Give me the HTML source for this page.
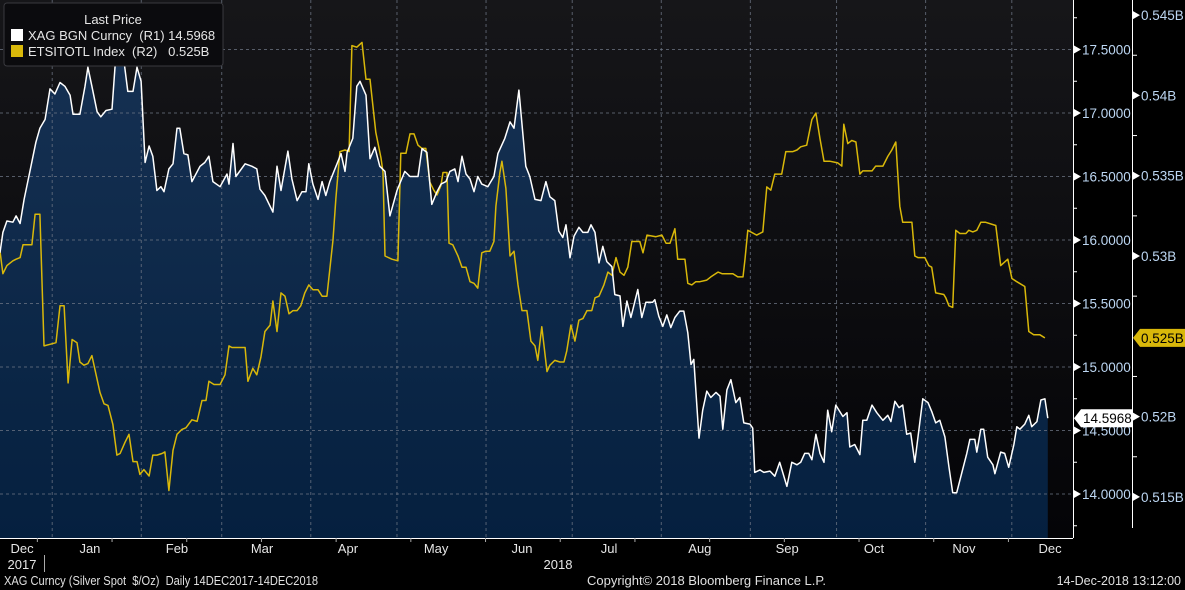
<!DOCTYPE html>
<html><head><meta charset="utf-8">
<style>
html,body{margin:0;padding:0;background:#000;}
svg{display:block;font-family:"Liberation Sans",sans-serif;}
</style></head>
<body>
<svg id="chart" width="1185" height="590" viewBox="0 0 1185 590" xmlns="http://www.w3.org/2000/svg">
<defs>
<linearGradient id="bg" x1="0" y1="0" x2="0" y2="1"><stop offset="0" stop-color="#161619"/><stop offset="1" stop-color="#040407"/></linearGradient>
<linearGradient id="area" x1="0" y1="0" x2="0" y2="1"><stop offset="0" stop-color="#163153"/><stop offset="1" stop-color="#05203f"/></linearGradient>
</defs>
<rect x="0" y="0" width="1185" height="590" fill="#000"/>
<rect x="0" y="0" width="1073" height="538" fill="url(#bg)"/>
<g id="areaG"></g>
<g id="grid"></g>
<g id="lines"></g>
<g id="axes"></g>
<g>
<rect x="4" y="3" width="219" height="63" rx="3" fill="#0b0b0e" stroke="#3a3a3f"/>
<text x="113" y="24" fill="#e6e6e6" font-size="13" text-anchor="middle">Last Price</text>
<rect x="11" y="29" width="12" height="12" fill="#fff"/>
<text x="28" y="40" fill="#e6e6e6" font-size="13" xml:space="preserve">XAG BGN Curncy  (R1) 14.5968</text>
<rect x="11" y="45" width="12" height="12" fill="#d9b80a"/>
<text x="28" y="56" fill="#e6e6e6" font-size="13" xml:space="preserve">ETSITOTL Index  (R2)   0.525B</text>
</g>
<text x="4" y="585" fill="#e0e0e0" font-size="12.5" xml:space="preserve" textLength="314" lengthAdjust="spacingAndGlyphs">XAG Curncy (Silver Spot  $/Oz)  Daily 14DEC2017-14DEC2018</text>
<text x="587" y="585" fill="#e0e0e0" font-size="12.5" textLength="239" lengthAdjust="spacingAndGlyphs">Copyright© 2018 Bloomberg Finance L.P.</text>
<text x="1181" y="585" fill="#e0e0e0" font-size="12.5" text-anchor="end">14-Dec-2018 13:12:00</text>
</svg>
<script>
const silverDays=[0,1,2.4,4.5,5.6,7,8.4,10.4,12.5,13.9,15.7,17.4,19.1,20.9,22.6,24.4,25.4,27.8,29.6,30.6,32,33.8,35.1,36.9,39,40,40.7,41.8,43.2,44.5,46.3,47.7,49.1,50.5,51.9,53.2,54.6,56,57.1,58.8,60.2,61.6,62.6,64,65.4,66.8,69.6,71.3,72.7,74.1,76.6,79,79.7,81.1,82.1,85.3,87.7,89.4,90.5,92.2,95,96.4,97.8,100.2,101.6,103.4,105.1,106.5,107.5,108.9,110.7,112.1,113.4,114.8,117.3,118.7,120.1,120.8,122.8,124.2,125.3,127.4,128.8,130.5,132.2,134,135.7,138.2,140.9,142.7,145.5,146.9,148.6,150.3,152.1,153.5,155.2,156.6,158.3,159.4,160.8,162.2,163.6,165,166.3,167.7,169.8,171.9,173.3,175.7,177.5,178.9,180.6,183,184.4,186.2,188.3,190,191.4,193.1,194.5,195.9,197,198.4,199.8,201.5,202.9,204.6,205.7,207.1,208.5,209.8,211.2,213,214,215.8,216.8,218.2,219.6,222,223.4,224.8,227.2,227.9,229.3,230.7,232.1,233.5,234.9,236.6,238,239.4,240.5,241.5,243.3,244.6,246,247.4,249.2,250.6,251.6,253,254.4,256.1,257.5,258.9,261,262,262.7,264.5,265.9,268,269.7,271.4,273.9,275.6,277.4,278.7,280.1,281.5,282.6,284,285.4,286.8,288.1,289.5,290.9,293.4,294.8,295.8,297.5,299.3,300.3,301.7,303.5,305.2,307.3,309,310.1,311.5,312.9,314.2,315.6,317,318.4,321.2,323,324.3,325.7,327.1,328.9,330.3,331.6,333,334.8,336.5,337.6,339.3,340,341.4,342.4,343.8,345.6,346.3,348.3,349.7,351.1,352.9,353.9,355,356.7,358.1,359.1,360.9,362.3,363.7,364.7];
const silverValues=[15.90,16.06,16.15,16.14,16.19,16.13,16.32,16.54,16.77,16.88,16.95,17.19,17.15,17.24,17.21,17.14,16.99,16.99,17.21,17.36,17.21,17.01,16.97,17.02,17.03,17.35,17.56,17.47,17.40,17.17,17.17,17.36,17.25,16.61,16.74,16.66,16.39,16.42,16.38,16.56,16.60,16.88,16.88,16.68,16.67,16.46,16.58,16.61,16.66,16.46,16.42,16.52,16.44,16.76,16.50,16.60,16.58,16.56,16.40,16.35,16.22,16.58,16.39,16.70,16.48,16.31,16.38,16.38,16.60,16.44,16.32,16.46,16.35,16.46,16.60,16.68,16.54,16.69,16.80,17.21,17.25,17.14,16.64,16.73,16.58,16.54,16.19,16.39,16.54,16.50,16.50,16.72,16.69,16.28,16.38,16.44,16.46,16.54,16.56,16.46,16.66,16.52,16.48,16.38,16.50,16.44,16.42,16.50,16.68,16.80,16.93,16.88,17.18,16.58,16.50,16.32,16.31,16.46,16.34,16.31,16.07,16.02,16.12,15.86,16.03,16.10,16.06,16.06,16.12,16.06,15.82,15.95,15.83,15.79,15.57,15.56,15.32,15.52,15.39,15.61,15.39,15.51,15.51,15.53,15.40,15.32,15.41,15.31,15.39,15.44,15.44,15.27,15.02,15.06,14.44,14.66,14.81,14.76,14.80,14.77,14.51,14.82,14.90,14.72,14.76,14.56,14.55,14.52,14.17,14.19,14.17,14.18,14.14,14.25,14.06,14.25,14.23,14.25,14.32,14.32,14.27,14.47,14.32,14.25,14.66,14.49,14.70,14.61,14.64,14.37,14.39,14.31,14.58,14.58,14.70,14.64,14.58,14.62,14.57,14.73,14.68,14.70,14.47,14.48,14.25,14.75,14.72,14.65,14.56,14.58,14.45,14.21,14.01,14.01,14.17,14.32,14.43,14.43,14.33,14.51,14.51,14.29,14.23,14.16,14.33,14.32,14.21,14.39,14.53,14.51,14.55,14.62,14.53,14.57,14.74,14.75,14.5968];
const etsDays=[0,1,2.4,4.5,5.6,7,8,11.1,12.2,13.9,15.3,17.4,19.5,20.9,22.3,23.7,25.1,26.8,27.8,29.2,30.6,32,34.8,36.2,37.6,39.3,40.7,41.8,43.5,44.9,46.3,47.7,48.7,50.1,51.9,53.2,54.6,56.4,57.4,58.8,60.2,61.6,63.3,64.7,66.8,68.6,70.3,71.7,72.7,74.5,76.6,78.3,79.7,80.7,85.3,86.3,88,89.4,90.8,92.2,94,95,96.4,97.8,99.2,100.6,102,103.4,104.7,106.1,107.5,108.9,110.7,112.1,113.8,115.9,116.9,118.3,120.1,121.5,122.5,124.2,126,127.4,128.8,130.8,132.6,133.3,134,136.4,138.5,139.5,141.3,142.7,144.1,145.5,146.9,148.2,149.6,151,152.1,153.5,154.2,155.6,156.3,157.6,159.4,160.8,162.2,163.6,165,166.3,167.7,169.1,170.5,171.9,172.6,174,174.7,176.1,177.5,178.9,180.3,181.7,183.4,184.8,186.2,187.2,188.6,190.4,191.4,193.1,194.9,196.3,197.3,198.7,200.1,201.5,202.9,204.3,206,207.1,208.5,210.2,211.6,213,214.4,215.8,217.2,218.5,219.9,222.7,223.8,225.2,228.3,230.4,231.8,233.2,234.9,235.9,238.4,239.4,240.8,242.2,243.6,246,247.4,249.9,251.3,255.1,256.8,258.6,259.3,260.3,263.4,265.5,266.9,268.3,269.7,272.1,273.5,276,277.4,278.7,280.8,282.6,284,285.4,286.8,288.8,291.6,293,293.7,295.1,296.5,297.9,299.3,300.3,303.5,304.8,307.3,309,310.4,311.8,313.2,314.2,317.4,318.4,319.5,321.9,323.3,324.3,325.7,328.5,329.2,330.3,331.6,332.7,334.1,336.2,337.2,338.6,340,341.4,343.1,346.6,348.3,350.8,352.2,353.9,356.7,358.1,359.8,361.9,363.7];
const etsValues=[0.5303,0.5289,0.5294,0.5297,0.5298,0.5299,0.5307,0.5307,0.5326,0.5326,0.5244,0.5245,0.5246,0.5269,0.5269,0.5221,0.5248,0.5246,0.5234,0.5232,0.5233,0.5238,0.5215,0.5208,0.5207,0.5195,0.5176,0.5177,0.5184,0.5189,0.5172,0.5172,0.5164,0.5167,0.5163,0.5176,0.5176,0.5177,0.5178,0.5154,0.5179,0.5189,0.5192,0.5193,0.5198,0.5197,0.5210,0.5210,0.5222,0.5220,0.5220,0.5226,0.5244,0.5243,0.5243,0.5222,0.5230,0.5226,0.5237,0.5253,0.5257,0.5272,0.5253,0.5277,0.5275,0.5264,0.5266,0.5266,0.5269,0.5277,0.5282,0.5279,0.5279,0.5275,0.5275,0.5310,0.5336,0.5365,0.5366,0.5365,0.5431,0.5430,0.5433,0.5410,0.5410,0.5377,0.5361,0.5352,0.5300,0.5298,0.5297,0.5364,0.5364,0.5376,0.5376,0.5369,0.5367,0.5367,0.5346,0.5341,0.5338,0.5344,0.5352,0.5352,0.5308,0.5307,0.5300,0.5293,0.5293,0.5284,0.5283,0.5280,0.5302,0.5303,0.5303,0.5309,0.5331,0.5352,0.5359,0.5342,0.5300,0.5303,0.5282,0.5266,0.5266,0.5247,0.5244,0.5235,0.5256,0.5228,0.5232,0.5235,0.5234,0.5234,0.5241,0.5257,0.5247,0.5260,0.5261,0.5266,0.5266,0.5274,0.5275,0.5282,0.5290,0.5288,0.5299,0.5290,0.5288,0.5293,0.5309,0.5309,0.5302,0.5313,0.5312,0.5313,0.5308,0.5308,0.5317,0.5298,0.5298,0.5283,0.5282,0.5284,0.5284,0.5285,0.5287,0.5290,0.5289,0.5289,0.5287,0.5287,0.5298,0.5316,0.5313,0.5315,0.5343,0.5341,0.5351,0.5351,0.5365,0.5365,0.5366,0.5368,0.5369,0.5385,0.5389,0.5373,0.5359,0.5359,0.5358,0.5356,0.5382,0.5370,0.5372,0.5371,0.5351,0.5353,0.5353,0.5356,0.5356,0.5362,0.5366,0.5371,0.5331,0.5321,0.5321,0.5300,0.5299,0.5299,0.5294,0.5293,0.5277,0.5276,0.5274,0.5269,0.5268,0.5316,0.5314,0.5314,0.5316,0.5315,0.5316,0.5321,0.5321,0.5319,0.5294,0.5298,0.5286,0.5284,0.5281,0.5253,0.5251,0.5251,0.5249];
const r1Ticks=[14.0,14.5,15.0,15.5,16.0,16.5,17.0,17.5];
const r1Labels=["14.0000","14.5000","15.0000","15.5000","16.0000","16.5000","17.0000","17.5000"];
const r2Ticks=[0.515,0.52,0.525,0.53,0.535,0.54,0.545];
const r2Labels=["0.515B","0.52B","","0.53B","0.535B","0.54B","0.545B"];
const monthDays=[18,49,77,108,138,169,199,230,261,291,322,352];
const monthLabels=["Dec","Jan","Feb","Mar","Apr","May","Jun","Jul","Aug","Sep","Oct","Nov","Dec"];
const monthLabelDays=[7.7,31.3,61.6,91.2,121.1,151.8,181.7,212,243.6,274,304.2,335.5,365.5];
const lastSilver="14.5968", lastEts="0.525B";

const NS="http://www.w3.org/2000/svg";
const X=d=>d*2.873;
const Y1=v=>494-(v-14)*127;
const Y2=v=>256-(v-0.53)*16060;
const PB=538;
function mk(tag,attrs,parent){const e=document.createElementNS(NS,tag);for(const k in attrs)e.setAttribute(k,attrs[k]);parent.appendChild(e);return e;}
const areaG=document.getElementById('areaG'),grid=document.getElementById('grid'),lines=document.getElementById('lines'),axes=document.getElementById('axes');

let sp=silverDays.map((d,i)=>X(d).toFixed(1)+','+Y1(silverValues[i]).toFixed(1));
const ar=mk('path',{d:'M'+X(silverDays[0])+','+PB+' L'+sp.join(' L')+' L'+X(silverDays[silverDays.length-1])+','+PB+' Z',fill:'url(#area)'},areaG);



r1Ticks.forEach(v=>{const l=mk('line',{x1:0,x2:1073,y1:Y1(v),y2:Y1(v),stroke:'#6e7685','stroke-width':1,'stroke-dasharray':'3,3',opacity:0.75},grid);

});
monthDays.forEach(d=>{const l=mk('line',{x1:X(d)+0.5,x2:X(d)+0.5,y1:0,y2:PB,stroke:'#6e7685','stroke-width':1,'stroke-dasharray':'3,3',opacity:0.75},grid);

});

let ep=etsDays.map((d,i)=>X(d).toFixed(1)+','+Y2(etsValues[i]).toFixed(1));
const el=mk('polyline',{points:ep.join(' '),fill:'none',stroke:'#d9b80a','stroke-width':1.5,'stroke-linejoin':'round'},lines);


const sl=mk('polyline',{points:sp.join(' '),fill:'none',stroke:'#ffffff','stroke-width':1.5,'stroke-linejoin':'round'},lines);



mk('line',{x1:1073.5,x2:1073.5,y1:0,y2:PB,stroke:'#fff','stroke-width':1},axes);
mk('line',{x1:1132.5,x2:1132.5,y1:0,y2:PB-10,stroke:'#fff','stroke-width':1},axes);
mk('line',{x1:0,x2:1073,y1:PB+0.5,y2:PB+0.5,stroke:'#fff','stroke-width':1},axes);
for(let v=13.75;v<=17.8;v+=0.5){const y=Y1(v);if(y<0||y>PB)continue;mk('line',{x1:1073,x2:1077,y1:y,y2:y,stroke:'#fff'},axes);}
r1Ticks.forEach((v,i)=>{const y=Y1(v);
mk('path',{d:`M1074,${y-4} L1081,${y} L1074,${y+4} Z`,fill:'#fff'},axes);
const t=mk('text',{x:1082,y:y+5,fill:'#bcd6f2','font-size':13.5},axes);t.textContent=r1Labels[i];

});
for(let v=0.5175;v<=0.546;v+=0.005){const y=Y2(v);mk('line',{x1:1133,x2:1137,y1:y,y2:y,stroke:'#fff'},axes);}
r2Ticks.forEach((v,i)=>{if(!r2Labels[i])return;const y=Y2(v);
mk('path',{d:`M1133,${y-4} L1140,${y} L1133,${y+4} Z`,fill:'#fff'},axes);
const t=mk('text',{x:1141,y:y+5,fill:'#bcd6f2','font-size':13.5},axes);t.textContent=r2Labels[i];

});
{const y=Y1(silverValues[silverValues.length-1]);
mk('path',{d:`M1074,${y} L1081,${y-9} L1132,${y-9} L1132,${y+9} L1081,${y+9} Z`,fill:'#fff'},axes);
const t=mk('text',{x:1083,y:y+5,fill:'#000','font-size':13.5},axes);t.textContent=lastSilver;

}
{const y=Y2(etsValues[etsValues.length-1]);
mk('path',{d:`M1133,${y} L1140,${y-9} L1185,${y-9} L1185,${y+9} L1140,${y+9} Z`,fill:'#d9b80a'},axes);
const t=mk('text',{x:1141,y:y+5,fill:'#000','font-size':13.5},axes);t.textContent=lastEts;

}
monthLabelDays.forEach((d,i)=>{const t=mk('text',{x:X(d),y:553,fill:'#e6e6e6','font-size':13,'text-anchor':'middle'},axes);t.textContent=monthLabels[i];

});
for(let d=13;d<365;d+=26){mk('line',{x1:X(d),x2:X(d),y1:PB,y2:PB+4,stroke:'#aaa'},axes);}
const y1=mk('text',{x:22,y:569,fill:'#e6e6e6','font-size':13,'text-anchor':'middle'},axes);y1.textContent='2017';


mk('line',{x1:44.5,x2:44.5,y1:555,y2:572,stroke:'#aaa'},axes);
const y2=mk('text',{x:558,y:569,fill:'#e6e6e6','font-size':13,'text-anchor':'middle'},axes);y2.textContent='2018';


</script>
</body></html>
